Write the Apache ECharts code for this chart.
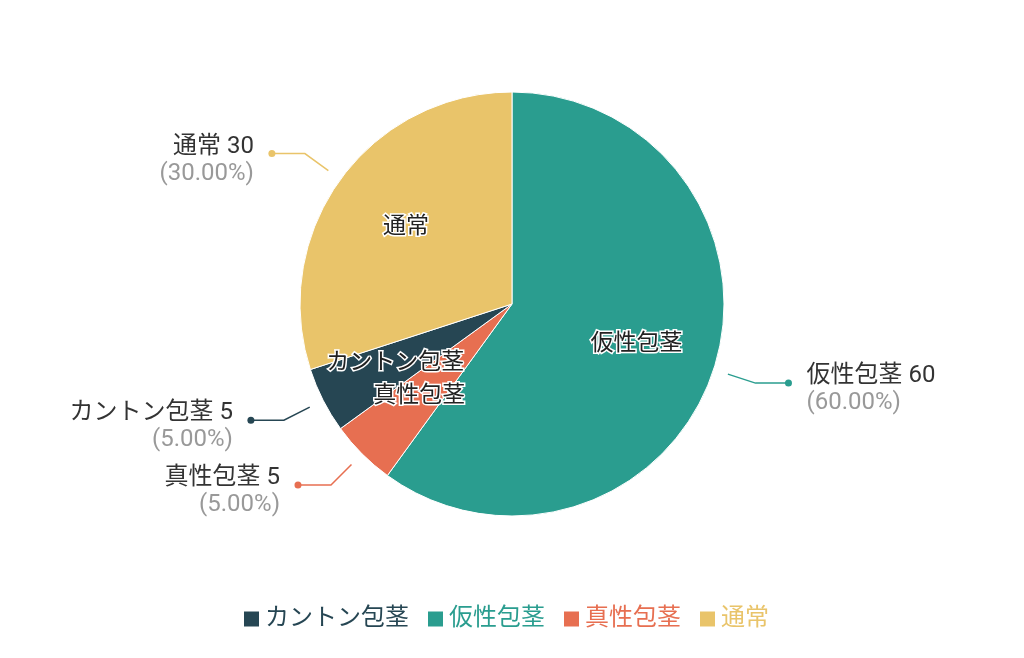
<!DOCTYPE html>
<html>
<head>
<meta charset="utf-8">
<script src="https://cdn.jsdelivr.net/npm/echarts@6/dist/echarts.min.js"></script>
<style>
  html, body { margin: 0; padding: 0; background: #fff; }
  #main { width: 1024px; height: 658px; }
</style>
</head>
<body>
<div id="main"></div>
<script>
// data
const names = ['仮性包茎', '真性包茎', 'カントン包茎', '通常'];
const values = [60, 5, 5, 30];
const colors = ['#2a9d8f', '#e76f51', '#264653', '#e9c46a'];
const legendOrder = ['カントン包茎', '仮性包茎', '真性包茎', '通常'];

const FONT = "Roboto, 'Noto Sans CJK JP', sans-serif";
const center = ['50%', 304];

let chart = echarts.init(document.getElementById('main'));

// rich keys for the little dots at the end of label lines
let dotRich = {};
colors.forEach((c, i) => {
  dotRich['d' + i] = { width: 7, height: 7, borderRadius: 4, backgroundColor: c };
});

chart.setOption({
  color: colors,
  legend: {
    bottom: 22,
    left: 237,
    icon: 'rect',
    itemWidth: 17,
    itemHeight: 17,
    itemGap: 17,
    textStyle: { fontSize: 24, fontFamily: FONT },
    data: legendOrder.map(n => ({
      name: n,
      textStyle: { color: colors[names.indexOf(n)] }
    }))
  },
  series: [
    // the visible pie
    {
      type: 'pie',
      center: center,
      radius: [0, 212],
      silent: true,
      itemStyle: { borderColor: '#fff', borderWidth: 1 },
      label: { show: false },
      labelLine: { show: false },
      data: names.map((n, i) => ({ name: n, value: values[i] }))
    },
    // outer labels: name value + percent, with label lines
    {
      type: 'pie',
      center: center,
      radius: [0, 227],
      silent: true,
      avoidLabelOverlap: false,
      label: {
        show: true,
        position: 'outside',
        distanceToLabelLine: 18,
        padding: [13, 0, 0, 0],
        fontFamily: FONT,
        formatter: p => '{n|' + p.name + ' ' + p.value + '}\n{p|(' + p.percent.toFixed(2) + '%)}',
        rich: {
          n: { fontSize: 24, color: '#333', lineHeight: 27, fontFamily: FONT },
          p: { fontSize: 24, color: '#999', lineHeight: 27, fontFamily: FONT }
        }
      },
      labelLine: { show: true, length: 29, length2: 33, lineStyle: { width: 1.5 } },
      data: names.map((n, i) => ({
        name: n,
        value: values[i],
        itemStyle: { color: 'rgba(0,0,0,0)' },
        labelLine: { lineStyle: { color: colors[i] } }
      }))
    },
    // dots at the end of the label lines
    {
      type: 'pie',
      center: center,
      radius: [0, 227],
      silent: true,
      avoidLabelOverlap: false,
      label: {
        show: true,
        position: 'outside',
        distanceToLabelLine: -3.5,
        formatter: p => '{d' + p.dataIndex + '|}',
        rich: dotRich
      },
      labelLine: { show: true, length: 29, length2: 33, lineStyle: { opacity: 0 } },
      data: names.map((n, i) => ({
        name: n,
        value: values[i],
        itemStyle: { color: 'rgba(0,0,0,0)' }
      }))
    },
    // inner name labels
    {
      type: 'pie',
      center: center,
      radius: [0, 256],
      silent: true,
      label: {
        show: true,
        position: 'inside',
        fontSize: 23,
        fontFamily: FONT,
        color: '#222',
        textBorderColor: '#fff',
        textBorderWidth: 3,
        formatter: '{b}'
      },
      labelLine: { show: false },
      data: names.map((n, i) => ({
        name: n,
        value: values[i],
        itemStyle: { color: 'rgba(0,0,0,0)' }
      }))
    }
  ]
});
</script>
</body>
</html>
